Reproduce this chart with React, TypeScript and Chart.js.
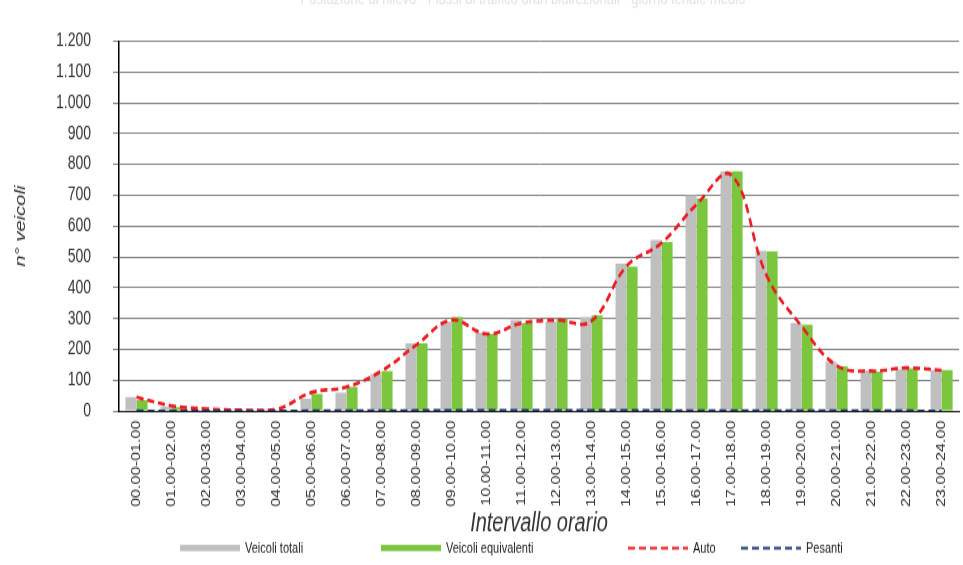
import React, { useEffect, useRef } from "react";
import { Chart, registerables } from "chart.js";

Chart.register(...registerables);

// ---------- data ----------
const categories = [
  "00.00-01.00", "01.00-02.00", "02.00-03.00", "03.00-04.00", "04.00-05.00", "05.00-06.00",
  "06.00-07.00", "07.00-08.00", "08.00-09.00", "09.00-10.00", "10.00-11.00", "11.00-12.00",
  "12.00-13.00", "13.00-14.00", "14.00-15.00", "15.00-16.00", "16.00-17.00", "17.00-18.00",
  "18.00-19.00", "19.00-20.00", "20.00-21.00", "21.00-22.00", "22.00-23.00", "23.00-24.00",
];
const veicoliTotali = [45, 15, 5, 3, 5, 40, 60, 120, 220, 290, 255, 295, 290, 305, 478, 555, 700, 778, 520, 285, 160, 132, 135, 133];
const veicoliEquivalenti = [35, 12, 4, 3, 4, 55, 78, 130, 220, 305, 250, 285, 298, 310, 468, 548, 690, 778, 518, 280, 145, 128, 138, 133];
const autoValues = [45, 17, 7, 3, 5, 60, 78, 130, 215, 295, 250, 285, 295, 292, 470, 545, 670, 765, 440, 275, 148, 130, 140, 132];
const pesantiValues = [1, 0, 0, 0, 0, 1, 1, 1, 2, 2, 2, 2, 2, 2, 2, 2, 1, 1, 1, 1, 1, 1, 1, 0];
const yTicks = [0, 100, 200, 300, 400, 500, 600, 700, 800, 900, 1000, 1100, 1200];
const seriesNames = ["Veicoli totali", "Veicoli equivalenti", "Auto", "Pesanti"];
const chartTitle = "Postazione di rilievo - Flussi di traffico orari bidirezionali - giorno feriale medio";

// ---------- styles ----------
const FONT = "'Liberation Sans', Arial, Helvetica, sans-serif";
const GRAY = "#bfbfbf";
const GREEN = "#7cc63e";
const RED = "#ea1c24";
const NAVY = "#1f3a78";
const W = 963;
const H_CSS = 565;
const H = 418; // logical height, stretched vertically to 565 like the reference
const K = H_CSS / H;

const fmt = (v: number) => {
  const s = String(Math.round(v));
  return s.replace(/\B(?=(\d{3})+(?!\d))/g, ".");
};

const decorPlugin = {
  id: "decor",
  afterDraw(chart: any) {
    const ctx = chart.ctx as CanvasRenderingContext2D;
    ctx.save();
    // faint title, cut off at the top
    ctx.fillStyle = "#e2e2e2";
    ctx.font = `13px ${FONT}`;
    ctx.textAlign = "center";
    ctx.textBaseline = "middle";
    ctx.fillText(chartTitle, 523, -1);

    // legend
    const ly = 548 / K;
    const items = [
      { kind: "box", color: GRAY, x: 180 },
      { kind: "box", color: GREEN, x: 381 },
      { kind: "line", color: RED, x: 628 },
      { kind: "line", color: NAVY, x: 741 },
    ];
    ctx.font = `11px ${FONT}`;
    ctx.textAlign = "left";
    items.forEach((it, i) => {
      if (it.kind === "box") {
        ctx.fillStyle = it.color;
        ctx.fillRect(it.x, ly - 2.3, 60, 4.6);
      } else {
        ctx.strokeStyle = it.color;
        ctx.lineWidth = 2;
        ctx.setLineDash([7, 4]);
        ctx.beginPath();
        ctx.moveTo(it.x, ly);
        ctx.lineTo(it.x + 60, ly);
        ctx.stroke();
        ctx.setLineDash([]);
      }
      ctx.fillStyle = "#222";
      ctx.fillText(seriesNames[i], it.x + 65, ly + 0.5);
    });
    ctx.restore();
  },
};

export default function App() {
  const ref = useRef<HTMLCanvasElement>(null);

  useEffect(() => {
    document.body.style.margin = "0";
    const canvas = ref.current!;
    const chart = new Chart(canvas, {
      type: "bar",
      data: {
        labels: categories,
        datasets: [
          {
            type: "line",
            label: seriesNames[3],
            data: pesantiValues,
            borderColor: NAVY,
            borderWidth: 2,
            borderDash: [7, 4],
            pointRadius: 0,
            tension: 0.4,
            fill: false,
            order: 0,
          } as any,
          {
            type: "line",
            label: seriesNames[2],
            data: autoValues,
            borderColor: RED,
            borderWidth: 2.6,
            borderDash: [7, 4],
            pointRadius: 0,
            tension: 0.4,
            fill: false,
            order: 1,
          } as any,
          {
            type: "bar",
            label: seriesNames[0],
            data: veicoliTotali,
            backgroundColor: GRAY,
            borderWidth: 0,
            categoryPercentage: 0.63,
            barPercentage: 1.0,
            order: 2,
          },
          {
            type: "bar",
            label: seriesNames[1],
            data: veicoliEquivalenti,
            backgroundColor: GREEN,
            borderWidth: 0,
            categoryPercentage: 0.63,
            barPercentage: 1.0,
            order: 2,
          },
        ],
      },
      options: {
        responsive: false,
        animation: false,
        devicePixelRatio: 1,
        layout: { padding: { top: 17 / K, left: 0, right: 0, bottom: 0 } },
        plugins: {
          legend: { display: false },
          tooltip: { enabled: false },
          title: { display: false },
        },
        scales: {
          x: {
            offset: true,
            grid: { display: false, drawTicks: false },
            border: { display: true, color: "#1a1a1a", width: 1 },
            ticks: {
              autoSkip: false,
              maxRotation: 90,
              minRotation: 90,
              padding: 7,
              color: "#333",
              font: { family: FONT, size: 12 },
            },
            title: {
              display: true,
              text: "Intervallo orario",
              color: "#333",
              font: { family: FONT, size: 20, style: "italic" },
              padding: { top: 0, bottom: 19 },
            },
            afterFit: (s: any) => {
              s.height = H - 411 / K;
            },
          },
          y: {
            min: 0,
            max: 1200,
            afterBuildTicks: (s: any) => {
              s.ticks = yTicks.map((v) => ({ value: v }));
            },
            grid: { color: "#858585", lineWidth: 1, tickLength: 6, drawTicks: true },
            border: { display: true, color: "#000", width: 1.5 },
            ticks: {
              padding: 22,
              color: "#333",
              font: { family: FONT, size: 14 },
              callback: (v: any) => fmt(Number(v)),
            },
            title: {
              display: true,
              text: "n° veicoli",
              color: "#333",
              font: { family: FONT, size: 15, style: "italic" },
              padding: { top: 12, bottom: 0 },
            },
            afterFit: (s: any) => {
              s.width = 119;
            },
          },
        },
      },
      plugins: [decorPlugin],
    } as any);
    return () => chart.destroy();
  }, []);

  return (
    <div style={{ width: W, height: H_CSS, overflow: "hidden", background: "#fff" }}>
      <canvas
        ref={ref}
        width={W}
        height={H}
        style={{ width: `${W}px`, height: `${H_CSS}px`, display: "block" }}
      />
    </div>
  );
}
